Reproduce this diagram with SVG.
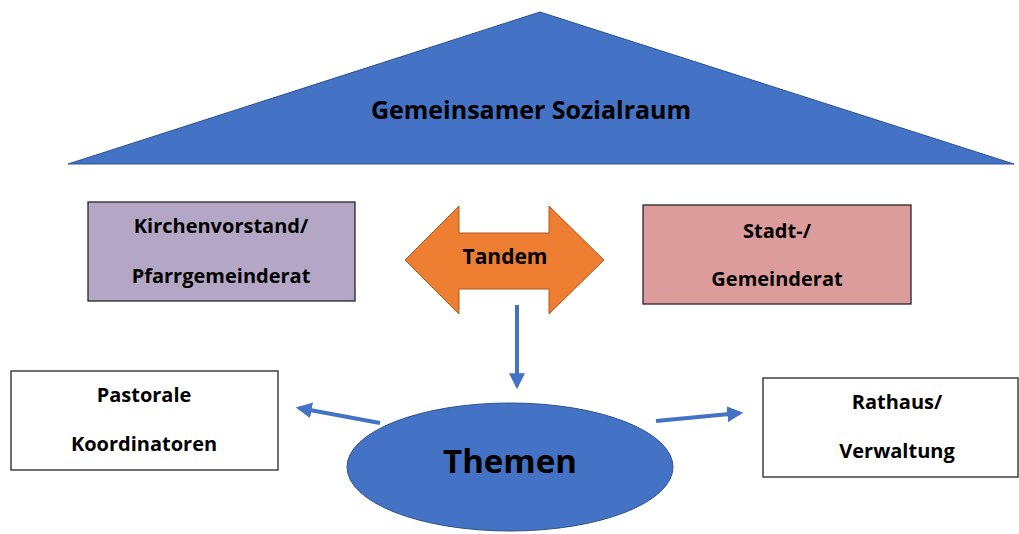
<svg xmlns="http://www.w3.org/2000/svg" width="1019" height="534" viewBox="0 0 1019 534">
<defs>
<style>
.t{font-family:"Open Sans","Noto Sans",sans-serif;font-weight:bold;fill:#000;text-anchor:middle}
.b{font-size:20px}
.box{stroke:#262626;stroke-width:1.3}
.conn{stroke:#4472c4;stroke-width:4;fill:none}
</style>
<marker id="ah" viewBox="0 0 10 10" refX="8" refY="5" markerWidth="4" markerHeight="4" markerUnits="strokeWidth" orient="auto">
<path d="M0,0 L10,5 L0,10 z" fill="#4472c4"/>
</marker>
</defs>
<rect width="1019" height="534" fill="#fff"/>
<g id="sozialraum">
<polygon points="540,12 1014,164 68,164" fill="#4472c4" stroke="#2f528f" stroke-width="1"/>
<text class="t" x="531" y="119" font-size="25">Gemeinsamer Sozialraum</text>
</g>
<g id="kirchenvorstand">
<rect class="box" x="88" y="202" width="267" height="99" fill="#b4a7c6"/>
<text class="t b" x="221" y="233">Kirchenvorstand/</text>
<text class="t b" x="221" y="283">Pfarrgemeinderat</text>
</g>
<g id="tandem">
<polygon points="405,260 459,206 459,233 549,233 549,206 604,260 549,314 549,289 459,289 459,314" fill="#ed7d31" stroke="#ae5a21" stroke-width="1"/>
<text class="t" x="505" y="264" font-size="21">Tandem</text>
</g>
<g id="stadtrat">
<rect class="box" x="643" y="205" width="268" height="99" fill="#dd9c9c"/>
<text class="t b" x="777" y="238">Stadt-/</text>
<text class="t b" x="777" y="286">Gemeinderat</text>
</g>
<g id="pastorale">
<rect class="box" x="11" y="371" width="267" height="99" fill="#fff"/>
<text class="t b" x="144" y="402">Pastorale</text>
<text class="t b" x="144" y="451">Koordinatoren</text>
</g>
<g id="rathaus">
<rect class="box" x="763" y="378" width="255" height="99" fill="#fff"/>
<text class="t b" x="897" y="409">Rathaus/</text>
<text class="t b" x="897" y="458">Verwaltung</text>
</g>
<g id="themen">
<ellipse cx="510" cy="467" rx="163" ry="64" fill="#4472c4" stroke="#2f528f" stroke-width="1"/>
<text class="t" x="510" y="473" font-size="33">Themen</text>
</g>
<g id="connectors">
<line class="conn" x1="517" y1="305" x2="517" y2="386" marker-end="url(#ah)"/>
<line class="conn" x1="380" y1="423" x2="299" y2="408" marker-end="url(#ah)"/>
<line class="conn" x1="656" y1="421" x2="740" y2="413" marker-end="url(#ah)"/>
</g>
</svg>
